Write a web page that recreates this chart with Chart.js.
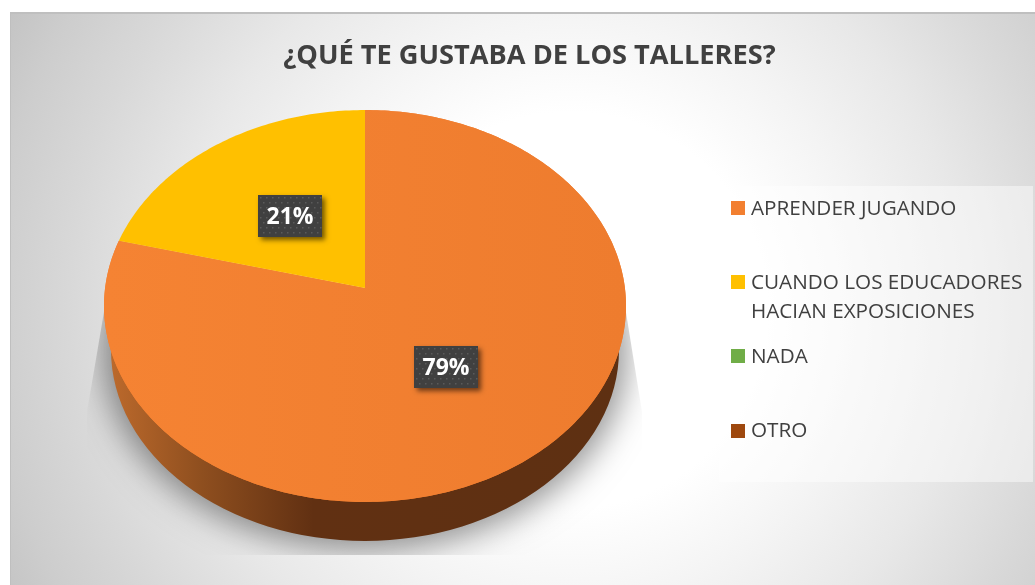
<!DOCTYPE html>
<html>
<head>
<meta charset="utf-8">
<title>¿Qué te gustaba de los talleres?</title>
<script src="https://cdn.jsdelivr.net/npm/chart.js@4"></script>
<style>
  html, body { margin: 0; padding: 0; background: #fff; }
  canvas { display: block; }
</style>
</head>
<body>
<canvas id="chart" width="1035" height="585"></canvas>
<script>
const titleText = "¿QUÉ TE GUSTABA DE LOS TALLERES?";
const categories = ["APRENDER JUGANDO", "CUANDO LOS EDUCADORES HACIAN EXPOSICIONES", "NADA", "OTRO"];
const legendLines = [["APRENDER JUGANDO"], ["CUANDO LOS EDUCADORES", "HACIAN EXPOSICIONES"], ["NADA"], ["OTRO"]];
const values = [79, 21, 0, 0];
const sliceColors = ["#F27F30", "#FFC000", "#70AD47", "#9E480E"];

const fontFamily = "'Open Sans', sans-serif";
const textColor = "#404040";

// Tilted disc: a circle seen in perspective, so the pie centre sits above the ellipse centre
const disc = {cx: 365, cy: 288, sx: 259.9, sy: 194.3, k: 0.0918};

function project(a, r) {
  const x = Math.cos(a) * r;
  const y = Math.sin(a) * r;
  const w = 1 - disc.k * y;
  return {x: disc.cx + disc.sx * x / w, y: disc.cy + disc.sy * y / w};
}

function drawBackground(ctx) {
  ctx.fillStyle = "#fff";
  ctx.fillRect(0, 0, 1035, 585);

  const bg = ctx.createRadialGradient(570, 310, 0, 570, 310, 660);
  bg.addColorStop(0, "#ffffff");
  bg.addColorStop(0.3, "#ffffff");
  bg.addColorStop(0.45, "#f4f4f4");
  bg.addColorStop(0.6, "#e8e8e8");
  bg.addColorStop(0.76, "#d8d8d8");
  bg.addColorStop(0.88, "#cdcdcd");
  bg.addColorStop(1, "#bfbfbf");
  ctx.fillStyle = bg;
  ctx.fillRect(10, 13, 1025, 572);

  ctx.fillStyle = "#bfbfbf";
  ctx.fillRect(10, 12, 1025, 2);
  ctx.fillRect(10, 12, 1, 573);

  // legend panel
  ctx.fillStyle = "rgba(255,255,255,0.45)";
  ctx.fillRect(719, 186, 314, 296);
}

function drawDrum(ctx) {
  // soft shadow, cut off by a hard edged box like the source picture
  ctx.save();
  ctx.beginPath();
  ctx.moveTo(106, 300);
  ctx.lineTo(87, 412);
  ctx.lineTo(87, 555);
  ctx.lineTo(642, 555);
  ctx.lineTo(642, 412);
  ctx.lineTo(624, 300);
  ctx.closePath();
  ctx.clip();
  // the ellipse itself is drawn off canvas, only its shadow lands on the picture
  ctx.shadowColor = "rgba(0,0,0,0.42)";
  ctx.shadowBlur = 32;
  ctx.shadowOffsetX = 2000;
  ctx.fillStyle = "#000";
  ctx.beginPath();
  ctx.ellipse(365 - 2000, 351, 262, 199, 0, 0, Math.PI * 2);
  ctx.fill();
  ctx.restore();

  // side wall
  const side = ctx.createLinearGradient(108, 0, 622, 0);
  side.addColorStop(0, "#bd6a2c");
  side.addColorStop(0.18, "#8f4f1f");
  side.addColorStop(0.4, "#613012");
  side.addColorStop(1, "#5e3012");
  ctx.fillStyle = side;
  ctx.beginPath();
  ctx.ellipse(365, 350, 254, 191, 0, 0, Math.PI);
  ctx.lineTo(104, 310);
  ctx.lineTo(626, 310);
  ctx.closePath();
  ctx.fill();
}

function drawLabelBox(ctx, text, p) {
  const w = 64, h = 42;
  const x = Math.round(p.x - w / 2), y = Math.round(p.y - h / 2) + 1;
  ctx.save();
  ctx.shadowColor = "rgba(0,0,0,0.55)";
  ctx.shadowBlur = 5;
  ctx.shadowOffsetX = 3;
  ctx.shadowOffsetY = 3;
  ctx.fillStyle = "#404040";
  ctx.fillRect(x, y, w, h);
  ctx.restore();

  ctx.fillStyle = "#5a5a5a";
  for (let dy = 2; dy < h - 1; dy += 5) {
    for (let dx = 2 + ((dy - 2) / 5 % 2) * 3; dx < w - 1; dx += 6) {
      ctx.fillRect(x + dx, y + dy, 1.5, 1.5);
    }
  }

  ctx.fillStyle = "#fff";
  ctx.font = "bold 23px " + fontFamily;
  ctx.textAlign = "center";
  ctx.textBaseline = "middle";
  ctx.fillText(text, x + w / 2, y + h / 2 + 1);
}

const tiltedPie = {
  id: "tiltedPie",
  beforeDraw(chart) {
    drawBackground(chart.ctx);
  },
  // arcs come from the library, only their outline is projected on the tilted disc
  beforeDatasetDraw(chart, args) {
    const ctx = chart.ctx;
    const arcs = chart.getDatasetMeta(args.index).data;
    drawDrum(ctx);
    arcs.forEach((arc, i) => {
      if (arc.endAngle - arc.startAngle <= 0) return;
      ctx.beginPath();
      ctx.moveTo(disc.cx, disc.cy);
      const steps = Math.ceil((arc.endAngle - arc.startAngle) * 60);
      for (let s = 0; s <= steps; s++) {
        const a = arc.startAngle + (arc.endAngle - arc.startAngle) * s / steps;
        const p = project(a, 1);
        ctx.lineTo(p.x, p.y);
      }
      ctx.closePath();
      ctx.fillStyle = arc.options.backgroundColor;
      ctx.fill();
      if (i === 0) {
        // the big slice is a touch lighter on the left
        const sheen = ctx.createLinearGradient(104, 0, 626, 0);
        sheen.addColorStop(0, "rgba(245,131,51,1)");
        sheen.addColorStop(1, "rgba(238,124,46,1)");
        ctx.fillStyle = sheen;
        ctx.fill();
      }
    });
    return false;
  },
  afterDraw(chart) {
    const ctx = chart.ctx;
    const arcs = chart.getDatasetMeta(0).data;
    const total = values.reduce((a, b) => a + b, 0);
    arcs.forEach((arc, i) => {
      if (!values[i]) return;
      const mid = (arc.startAngle + arc.endAngle) / 2;
      drawLabelBox(ctx, Math.round(values[i] / total * 100) + "%", project(mid, 0.49));
    });

    // legend
    ctx.textAlign = "left";
    ctx.textBaseline = "middle";
    ctx.font = "20.7px " + fontFamily;
    legendLines.forEach((lines, i) => {
      const y = 208 + i * 74.2;
      ctx.fillStyle = sliceColors[i];
      ctx.fillRect(731, Math.round(y) - 7, 14, 14);
      ctx.fillStyle = textColor;
      lines.forEach((line, j) => ctx.fillText(line, 751, y + j * 29 + 1));
    });
  }
};

new Chart(document.getElementById("chart"), {
  type: "pie",
  data: {
    labels: categories,
    datasets: [{data: values, backgroundColor: sliceColors, borderWidth: 0}]
  },
  options: {
    responsive: false,
    animation: false,
    layout: {padding: {left: 24}},
    plugins: {
      legend: {display: false},
      tooltip: {enabled: false},
      title: {
        display: true,
        text: titleText,
        color: textColor,
        font: {family: fontFamily, size: 27.2, weight: "bold"},
        padding: {top: 40, bottom: 20}
      }
    }
  },
  plugins: [tiltedPie]
});
</script>
</body>
</html>
